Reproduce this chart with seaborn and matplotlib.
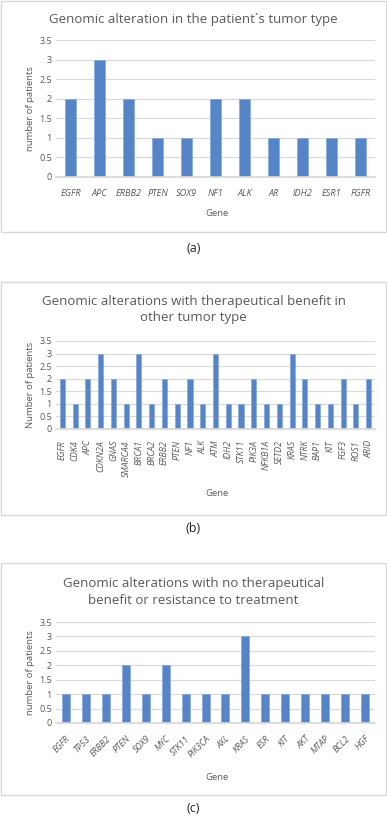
import matplotlib
matplotlib.use("Agg")
import matplotlib.pyplot as plt
import seaborn as sns
from matplotlib.patches import Rectangle

# data
genes_a = ["EGFR", "APC", "ERBB2", "PTEN", "SOX9", "NF1", "ALK", "AR", "IDH2", "ESR1", "FGFR"]
counts_a = [2, 3, 2, 1, 1, 2, 2, 1, 1, 1, 1]

genes_b = ["EGFR", "CDK4", "APC", "CDKN2A", "GNAS", "SMARCA4", "BRCA1", "BRCA2", "ERBB2",
           "PTEN", "NF1", "ALK", "ATM", "IDH2", "STK11", "PIK3A", "NFKB1A", "SETD2",
           "KRAS", "NTRK", "BAP1", "KIT", "FGF3", "ROS1", "ARID"]
counts_b = [2, 1, 2, 3, 2, 1, 3, 1, 2, 1, 2, 1, 3, 1, 1, 2, 1, 1, 3, 2, 1, 1, 2, 1, 2]

genes_c = ["EGFR", "TP53", "ERBB2", "PTEN", "SOX9", "MYC", "STK11", "PIK3CA", "AXL",
           "KRAS", "ESR", "KIT", "AKT", "MTAP", "BCL2", "HGF"]
counts_c = [1, 1, 1, 2, 1, 2, 1, 1, 1, 3, 1, 1, 1, 1, 1, 1]

yticks = [0, 0.5, 1, 1.5, 2, 2.5, 3, 3.5]
ytick_labels = ["0", "0.5", "1", "1.5", "2", "2.5", "3", "3.5"]

sns.set_theme(style="white")
plt.rcParams["font.family"] = ["Open Sans", "DejaVu Sans"]

W, H = 387, 817
fig = plt.figure(figsize=(W / 100, H / 100), dpi=100)
fig.patch.set_facecolor("white")

bar_color = "#5585C6"
text_color = "#595959"
grid_color = "#D9D9D9"


def fy(y):
    return 1 - y / H


def panel(genes, counts, box, axbox, title, title_y, ylabel, rot, tick_y, gene_y, tag, tag_y):
    # grey frame around the chart
    x0, y0, x1, y1 = box
    fig.add_artist(Rectangle((x0 / W, fy(y1)), (x1 - x0) / W, (y1 - y0) / H,
                             transform=fig.transFigure, fill=False,
                             edgecolor="#D9D9D9", linewidth=1.0))
    left, top, right, bottom = axbox
    ax = fig.add_axes([left / W, fy(bottom), (right - left) / W, (bottom - top) / H])
    sns.barplot(x=genes, y=counts, color=bar_color, width=0.4, ax=ax,
                edgecolor="#7FA3D6", linewidth=0.4, saturation=1)
    ax.set_ylim(0, 3.5)
    ax.set_yticks(yticks)
    ax.set_yticklabels(ytick_labels, fontsize=6.5, color=text_color)
    ax.yaxis.grid(True, color=grid_color, linewidth=0.8)
    ax.set_axisbelow(True)
    for s in ["top", "right", "left"]:
        ax.spines[s].set_visible(False)
    ax.spines["bottom"].set_color(grid_color)
    ax.tick_params(axis="both", length=0, pad=3)
    ax.set_xticks(range(len(genes)))
    if rot == 0:
        ax.set_xticklabels(genes, fontsize=6.6, style="italic", color=text_color)
    elif rot == 90:
        ax.set_xticklabels(genes, fontsize=6.3, style="italic", color=text_color,
                           rotation=90, va="top", ha="center")
    else:
        ax.set_xticklabels(genes, fontsize=6.3, style="italic", color=text_color,
                           rotation=45, ha="right", va="top", rotation_mode="anchor")
    ax.tick_params(axis="x", pad=tick_y)
    ax.set_xlabel("")
    ax.set_ylabel(ylabel, fontsize=6.8, color=text_color, labelpad=3)
    fig.text(0.5 * (left + right) / W + 0.005, fy(gene_y), "Gene", fontsize=6.8,
             color=text_color, ha="center", va="center")
    fig.text(0.5, fy(title_y), title, fontsize=9.5, color=text_color,
             ha="center", va="center", linespacing=1.3)
    fig.text(0.5, fy(tag_y), tag, fontsize=9, color="#222222", ha="center", va="center")
    return ax


panel(genes_a, counts_a, (1, 1, 386, 232), (56, 40, 375, 177),
      "Genomic alteration in the patient\u00b4s tumor type", 19,
      "number of patients", 0, 9, 213, "(a)", 248)

panel(genes_b, counts_b, (1, 282, 386, 515), (56, 341, 375, 429),
      "Genomic alterations with therapeutical benefit in\nother tumor type", 310,
      "Number of patients", 90, 8, 494, "(b)", 528)

panel(genes_c, counts_c, (1, 563, 386, 795), (56, 622, 375, 723),
      "Genomic alterations with no therapeutical\nbenefit or resistance to treatment", 592,
      "number of patients", 45, 8, 777, "(c)", 808)

fig.savefig("out.png", dpi=100, facecolor="white")
